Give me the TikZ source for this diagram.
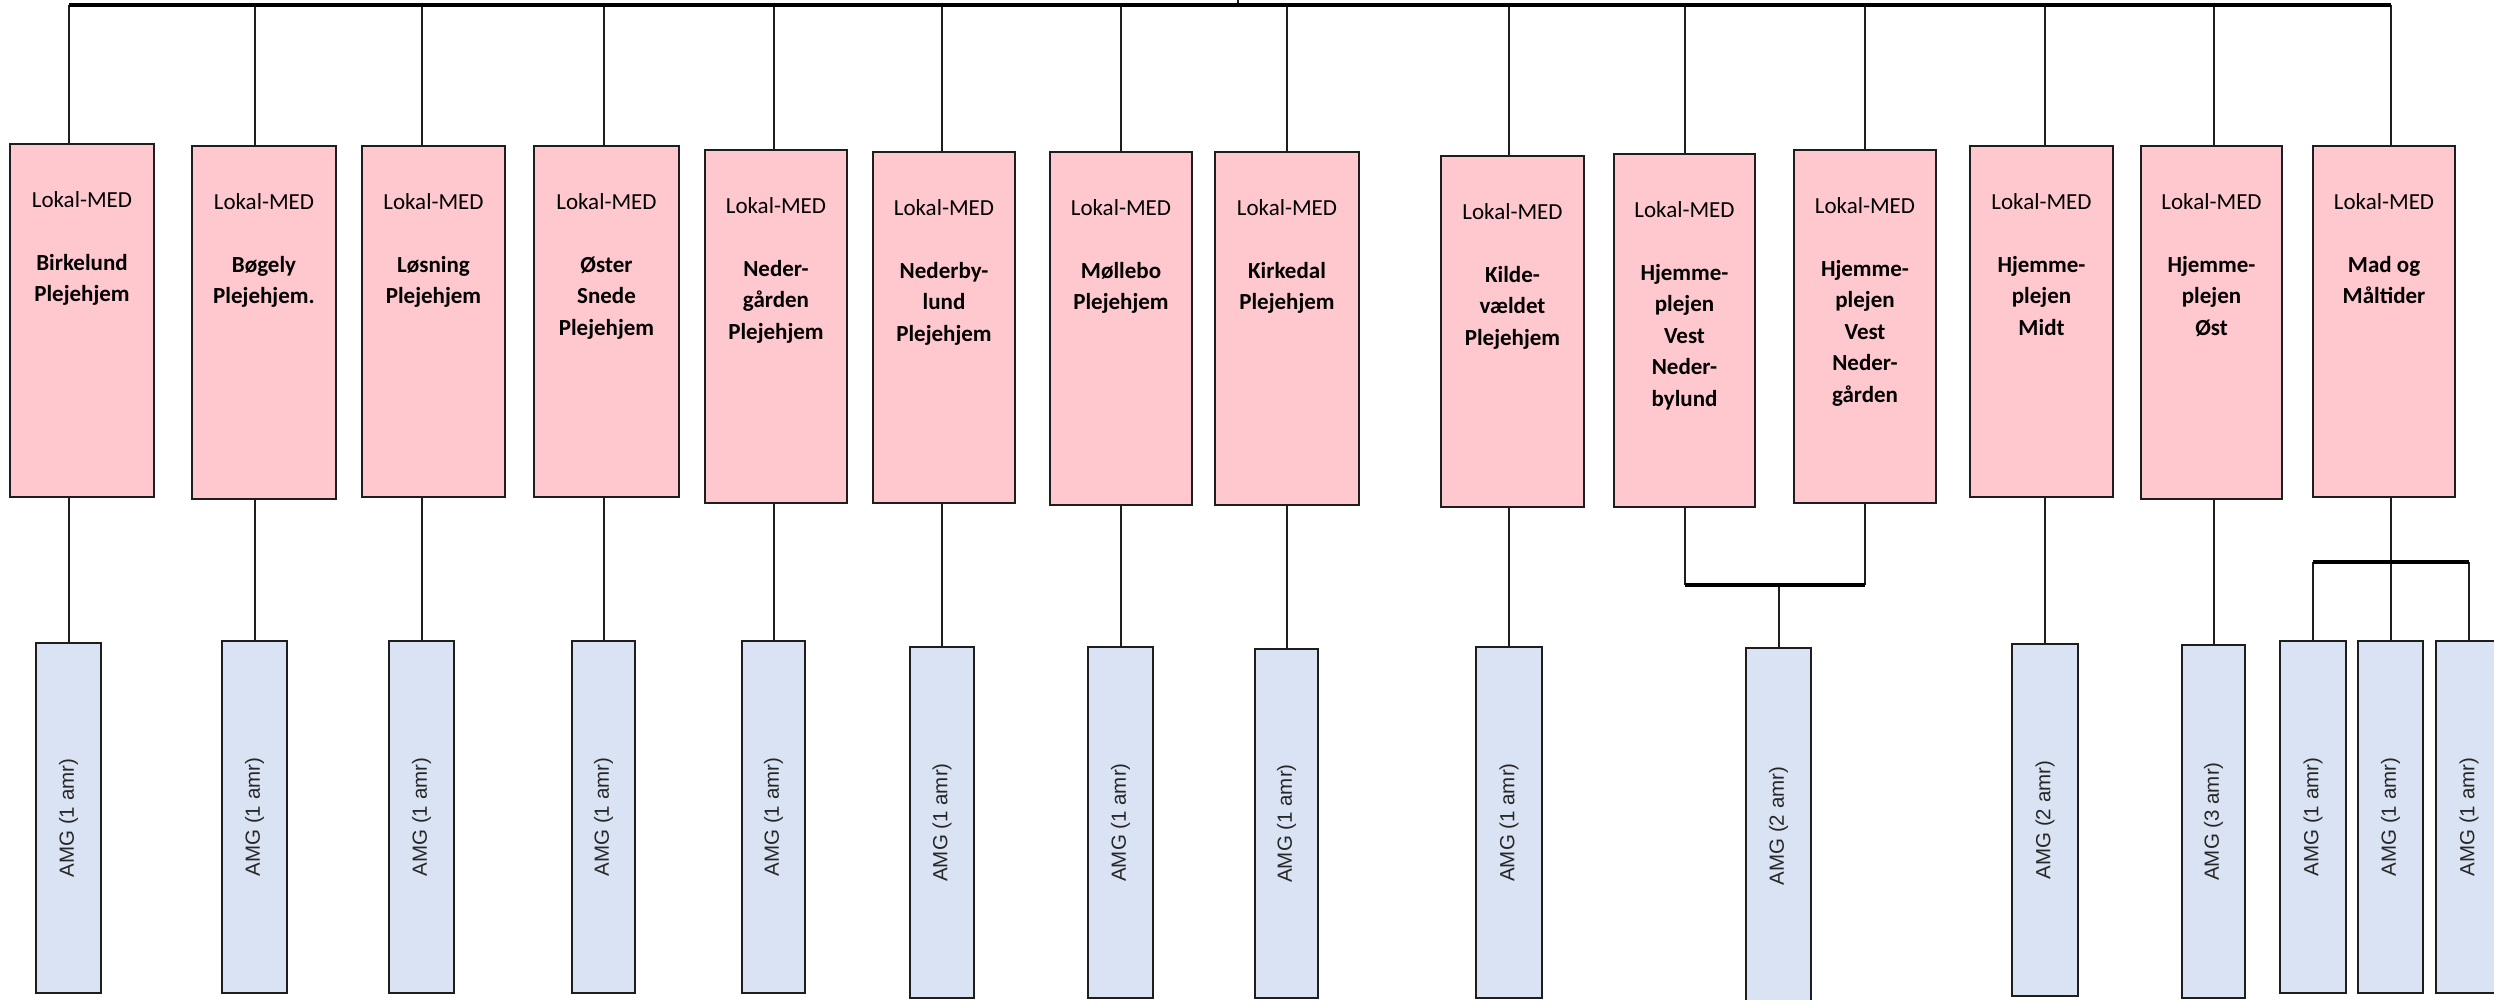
\documentclass[tikz,border=0pt]{standalone}
\usepackage{fontspec}
\setmainfont{Carlito}
\newfontfamily\amgfont{Liberation Sans}
\usetikzlibrary{fit}
\definecolor{pinkfill}{HTML}{FFC7CE}
\definecolor{bluefill}{HTML}{DAE3F3}
\definecolor{edge}{HTML}{1E1E1E}
\tikzset{
  pinkbox/.style={draw=edge, line width=2.2pt, fill=pinkfill, inner sep=0pt},
  bluebox/.style={draw=edge, line width=2pt, fill=bluefill, inner sep=0pt},
  ptext/.style={anchor=north, align=center, inner sep=0pt, font=\fontsize{23}{31.5}\selectfont, text=black},
  atext/.style={rotate=90, inner sep=0pt, font=\amgfont\fontsize{20.5}{24}\selectfont, text=black!85},
  conn/.style={draw=edge, line width=2pt},
  hbar/.style={draw=black, line width=4.5pt},
}
\newcommand\pinkunit[6]{%
  \node[pinkbox, fit={(#2,#3) (#4,#5)}] (#1) {};
  \node[ptext] (#1t) at ([yshift=-48pt]#1.north) {Lokal-MED\\[31.5pt]#6};}
\newcommand\amgunit[6]{%
  \node[bluebox, fit={(#2,#3) (#4,#5)}] (#1) {};
  \node[atext] (#1t) at (#1.center) {AMG (#6 amr)};}
\begin{document}
\begin{tikzpicture}[x=1pt, y=-1pt]
\useasboundingbox (0,0) rectangle (2494,999);

% Lokal-MED boxes
\pinkunit{p1}{10}{144}{154}{497}{\textbf{Birkelund}\\\textbf{Plejehjem}}
\pinkunit{p2}{192}{146}{336}{499}{\textbf{Bøgely}\\\textbf{Plejehjem.}}
\pinkunit{p3}{362}{146}{505}{497}{\textbf{Løsning}\\\textbf{Plejehjem}}
\pinkunit{p4}{534}{146}{679}{497}{\textbf{Øster}\\\textbf{Snede}\\\textbf{Plejehjem}}
\pinkunit{p5}{705}{150}{847}{503}{\textbf{Neder-}\\\textbf{gården}\\\textbf{Plejehjem}}
\pinkunit{p6}{873}{152}{1015}{503}{\textbf{Nederby-}\\\textbf{lund}\\\textbf{Plejehjem}}
\pinkunit{p7}{1050}{152}{1192}{505}{\textbf{Møllebo}\\\textbf{Plejehjem}}
\pinkunit{p8}{1215}{152}{1359}{505}{\textbf{Kirkedal}\\\textbf{Plejehjem}}
\pinkunit{p9}{1441}{156}{1584}{507}{\textbf{Kilde-}\\\textbf{vældet}\\\textbf{Plejehjem}}
\pinkunit{p10}{1614}{154}{1755}{507}{\textbf{Hjemme-}\\\textbf{plejen}\\\textbf{Vest}\\\textbf{Neder-}\\\textbf{bylund}}
\pinkunit{p11}{1794}{150}{1936}{503}{\textbf{Hjemme-}\\\textbf{plejen}\\\textbf{Vest}\\\textbf{Neder-}\\\textbf{gården}}
\pinkunit{p12}{1970}{146}{2113}{497}{\textbf{Hjemme-}\\\textbf{plejen}\\\textbf{Midt}}
\pinkunit{p13}{2141}{146}{2282}{499}{\textbf{Hjemme-}\\\textbf{plejen}\\\textbf{Øst}}
\pinkunit{p14}{2313}{146}{2455}{497}{\textbf{Mad og}\\\textbf{Måltider}}

% AMG boxes
\amgunit{a1}{36}{643}{101}{993}{1}
\amgunit{a2}{222}{641}{287}{993}{1}
\amgunit{a3}{389}{641}{454}{993}{1}
\amgunit{a4}{572}{641}{635}{993}{1}
\amgunit{a5}{742}{641}{805}{993}{1}
\amgunit{a6}{910}{647}{974}{998}{1}
\amgunit{a7}{1088}{647}{1153}{998}{1}
\amgunit{a8}{1255}{649}{1318}{998}{1}
\amgunit{a9}{1476}{647}{1542}{998}{1}
\amgunit{a10}{1746}{648}{1811}{1004}{2}
\amgunit{a11}{2012}{644}{2078}{996}{2}
\amgunit{a12}{2182}{645}{2245}{998}{3}
\amgunit{a13}{2280}{641}{2346}{993}{1}
\amgunit{a14}{2358}{641}{2423}{993}{1}
\amgunit{a15}{2436}{641}{2502}{993}{1}

% connectors
\coordinate (barY) at (0,5);
\coordinate (up) at (1238,-3);
\coordinate (vestY) at (0,585);
\coordinate (madY) at (0,562);
\draw[conn] (up) -- (up |- barY);
\foreach \p/\a in {1/1,2/2,3/3,4/4,5/5,6/6,7/7,8/8,9/9,12/11,13/12} {
  \draw[conn] (a\a.north |- barY) -- (a\a.north |- p\p.north);
  \draw[conn] (a\a.north |- p\p.south) -- (a\a.north);
}
\draw[conn] (p10.north |- barY) -- (p10.north);
\draw[conn] (p11.north |- barY) -- (p11.north);
\draw[conn] (a14.north |- barY) -- (a14.north |- p14.north);
\draw[hbar] (a1.north |- barY) -- (a14.north |- barY);

\draw[conn] (p10.south) -- (p10.south |- vestY);
\draw[conn] (p11.south) -- (p11.south |- vestY);
\draw[conn] (a10.north |- vestY) -- (a10.north);
\draw[hbar] (p10.south |- vestY) -- (p11.south |- vestY);

\draw[conn] (a14.north |- p14.south) -- (a14.north);
\draw[conn] (a13.north |- madY) -- (a13.north);
\draw[conn] (a15.north |- madY) -- (a15.north);
\draw[hbar] (a13.north |- madY) -- (a15.north |- madY);
\end{tikzpicture}
\end{document}
